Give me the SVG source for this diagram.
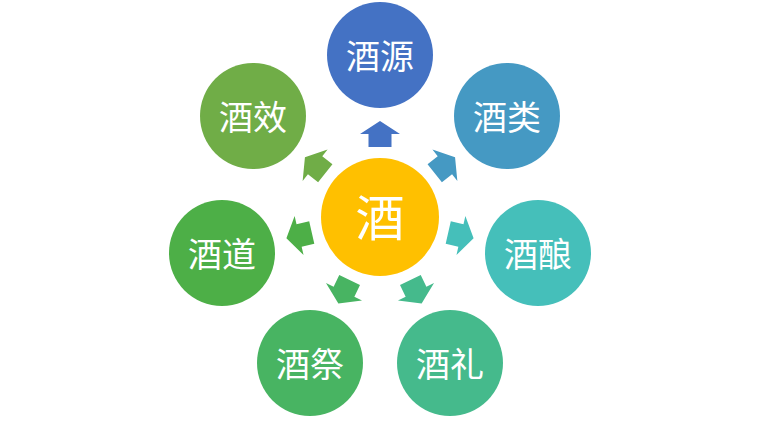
<svg xmlns="http://www.w3.org/2000/svg" width="760" height="421" viewBox="0 0 760 421">
<defs>
<style>
.lbl{font-family:"Liberation Sans","Noto Sans CJK SC",sans-serif;font-size:34px;fill:#fff;text-anchor:middle}
.big{font-size:49px}
</style>
<polygon id="arr" points="0,-96 20,-83 11.5,-83 11.5,-70 -11.5,-70 -11.5,-83 -20,-83"/>
</defs>
<rect width="760" height="421" fill="#fff"/>
<g id="connectors">
<use href="#arr" fill="#4472C4" transform="translate(380,217) rotate(0)"/>
<use href="#arr" fill="#4599C3" transform="translate(380,217) rotate(51.43)"/>
<use href="#arr" fill="#45BFBA" transform="translate(380,217) rotate(102.86)"/>
<use href="#arr" fill="#45BA8C" transform="translate(380,217) rotate(154.29)"/>
<use href="#arr" fill="#48B462" transform="translate(380,217) rotate(205.71)"/>
<use href="#arr" fill="#4DAF47" transform="translate(380,217) rotate(257.14)"/>
<use href="#arr" fill="#70AD47" transform="translate(380,217) rotate(308.57)"/>
</g>
<g id="center"><circle cx="380" cy="217" r="59" fill="#FFC000"/><text class="lbl big" x="380" y="236">酒</text></g>
<g id="n-jiuyuan"><circle cx="380" cy="55" r="53" fill="#4472C4"/><text class="lbl" x="380" y="69">酒源</text></g>
<g id="n-jiulei"><circle cx="507" cy="116" r="53" fill="#4599C3"/><text class="lbl" x="507" y="130">酒类</text></g>
<g id="n-jiuniang"><circle cx="538" cy="253" r="53" fill="#45BFBA"/><text class="lbl" x="538" y="267">酒酿</text></g>
<g id="n-jiuli"><circle cx="450" cy="363" r="53" fill="#45BA8C"/><text class="lbl" x="450" y="377">酒礼</text></g>
<g id="n-jiuji"><circle cx="310" cy="363" r="53" fill="#48B462"/><text class="lbl" x="310" y="377">酒祭</text></g>
<g id="n-jiudao"><circle cx="222" cy="253" r="53" fill="#4DAF47"/><text class="lbl" x="222" y="267">酒道</text></g>
<g id="n-jiuxiao"><circle cx="253" cy="116" r="53" fill="#70AD47"/><text class="lbl" x="253" y="130">酒效</text></g>
</svg>
